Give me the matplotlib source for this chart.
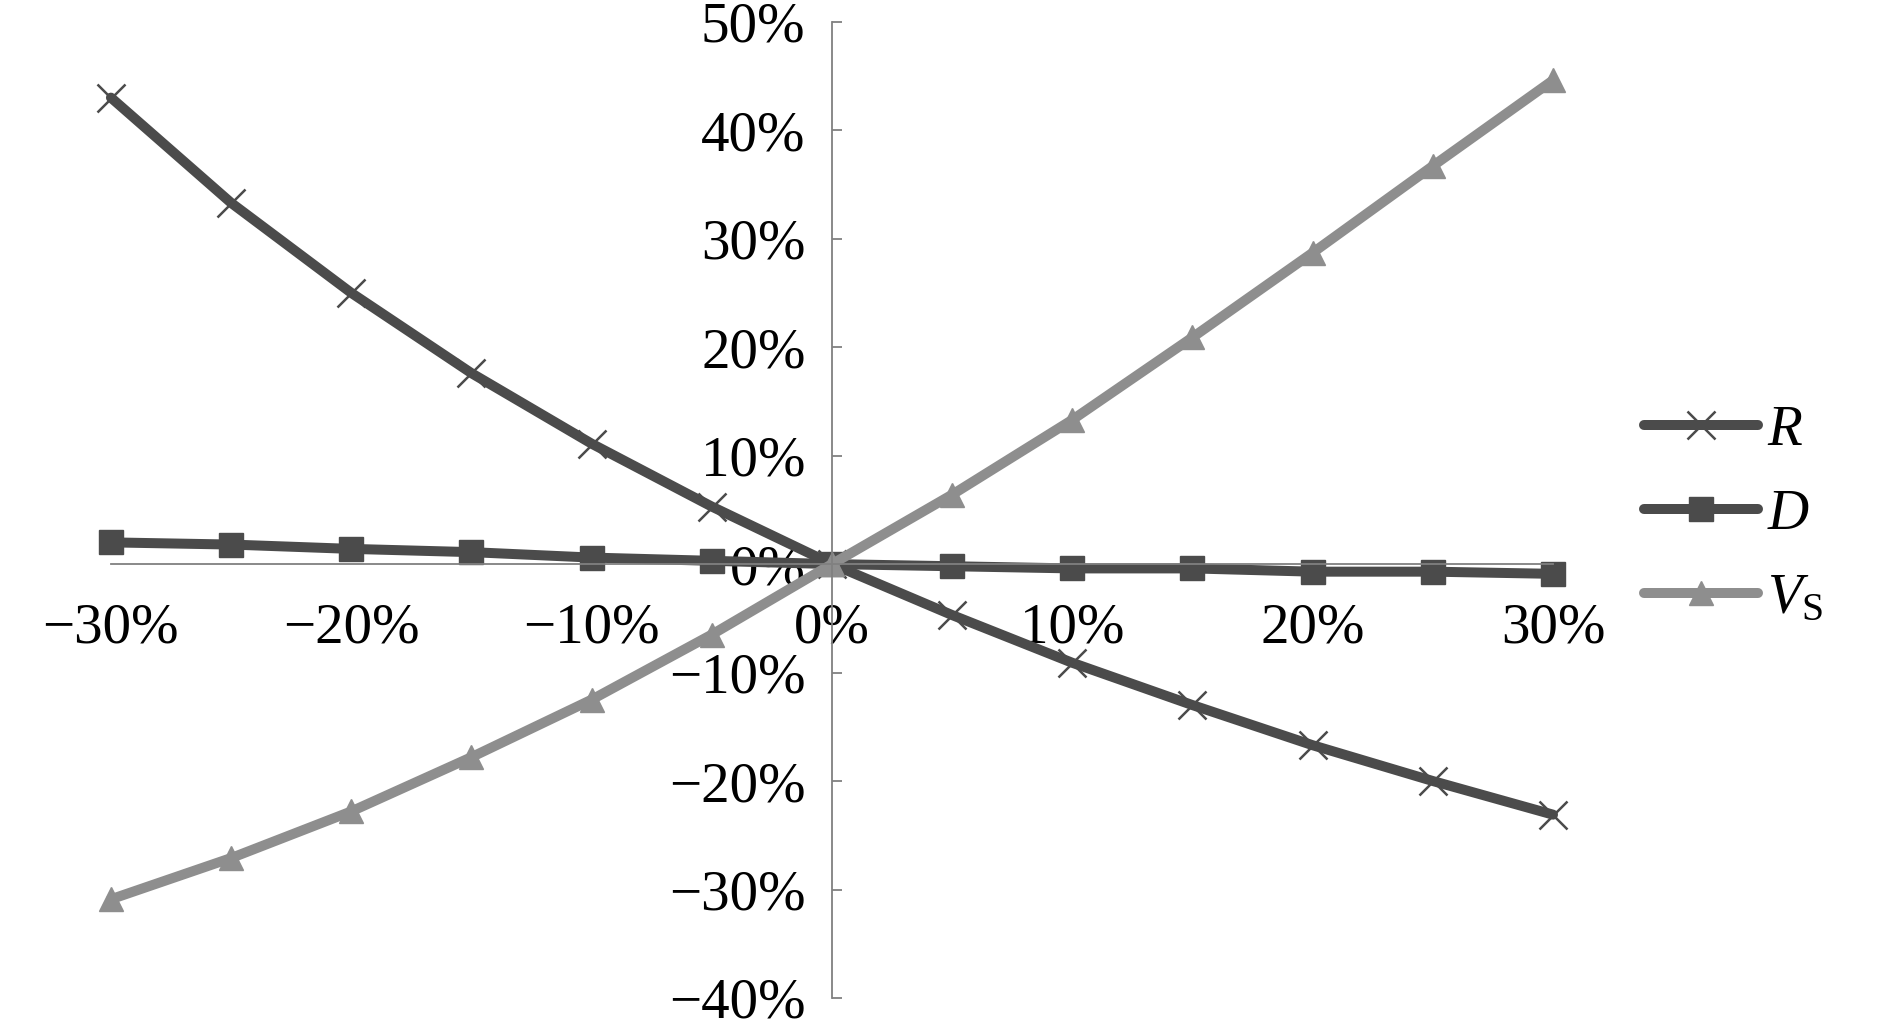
import matplotlib
matplotlib.use("Agg")
import matplotlib.pyplot as plt

plt.rcParams["font.family"] = ["Liberation Serif", "DejaVu Serif"]
plt.rcParams["mathtext.fontset"] = "custom"
plt.rcParams["mathtext.rm"] = "Liberation Serif"
plt.rcParams["mathtext.it"] = "Liberation Serif:italic"

# Data (percent change)
change = [-30, -25, -20, -15, -10, -5, 0, 5, 10, 15, 20, 25, 30]
r_vals = [43.0, 33.3, 25.0, 17.6, 11.1, 5.3, 0.0, -4.7, -9.1, -13.0, -16.7, -20.0, -23.1]
d_vals = [2.0, 1.8, 1.4, 1.1, 0.6, 0.3, 0.0, -0.2, -0.4, -0.4, -0.7, -0.7, -0.9]
vs_vals = [-30.9, -27.1, -22.8, -17.8, -12.5, -6.5, 0.0, 6.4, 13.3, 20.9, 28.7, 36.7, 44.6]

x_ticks = [-30, -20, -10, 0, 10, 20, 30]
x_labels = ["\u221230%", "\u221220%", "\u221210%", "0%", "10%", "20%", "30%"]
y_ticks = [-40, -30, -20, -10, 0, 10, 20, 30, 40, 50]
y_labels = ["\u221240%", "\u221230%", "\u221220%", "\u221210%", "0%",
            "10%", "20%", "30%", "40%", "50%"]

dark = "#4b4b4b"
light = "#8e8e8e"
axis_col = "#808080"

fig = plt.figure(figsize=(18.9, 10.28), dpi=100)
ax = fig.add_axes([0.0587, 0.0292, 0.7630, 0.9497])

ax.plot(change, r_vals, color=dark, lw=7.2, marker="x", ms=20, mew=1.8,
        solid_capstyle="round", clip_on=False, label="$R$")
ax.plot(change, d_vals, color=dark, lw=7.2, marker="s", ms=17,
        solid_capstyle="round", clip_on=False, label="$D$")
ax.plot(change, vs_vals, color=light, lw=7.2, marker="^", ms=17,
        solid_capstyle="round", clip_on=False, label="$V_{\\mathrm{S}}$")

ax.set_xlim(-30, 30)
ax.set_ylim(-40, 50)

ax.spines["left"].set_position(("data", 0))
ax.spines["bottom"].set_position(("data", 0))
ax.spines["top"].set_visible(False)
ax.spines["right"].set_visible(False)
for s in ("left", "bottom"):
    ax.spines[s].set_color(axis_col)
    ax.spines[s].set_linewidth(1.3)

ax.set_xticks(x_ticks)
ax.set_xticklabels(x_labels)
ax.set_yticks(y_ticks)
ax.set_yticklabels(y_labels)
ax.tick_params(axis="x", length=0, pad=28, labelsize=41)
ax.tick_params(axis="y", direction="in", length=7, width=1.3, color=axis_col,
               pad=19, labelsize=41)

fig.legend(loc="center left", bbox_to_anchor=(0.870, 0.499), frameon=False,
           fontsize=41, handlelength=2.0, handletextpad=0.15, labelspacing=0.56,
           borderpad=0, borderaxespad=0)

fig.savefig("out.png", dpi=100)
